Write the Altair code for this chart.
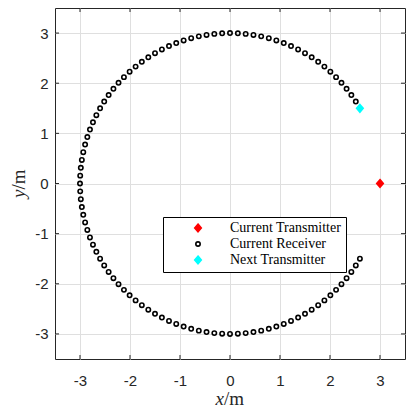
import altair as alt
import numpy as np
import pandas as pd

radius = 3.0
receiver_angle_deg = [33, 36, 39, 42, 45, 48, 51, 54, 57, 60, 63, 66, 69, 72, 75, 78, 81, 84, 87, 90,
                      93, 96, 99, 102, 105, 108, 111, 114, 117, 120, 123, 126, 129, 132, 135, 138, 141, 144, 147, 150,
                      153, 156, 159, 162, 165, 168, 171, 174, 177, 180, 183, 186, 189, 192, 195, 198, 201, 204, 207, 210,
                      213, 216, 219, 222, 225, 228, 231, 234, 237, 240, 243, 246, 249, 252, 255, 258, 261, 264, 267, 270,
                      273, 276, 279, 282, 285, 288, 291, 294, 297, 300, 303, 306, 309, 312, 315, 318, 321, 324, 327, 330]
current_tx = [3.0, 0.0]
next_tx = [2.598, 1.5]
ticks = [-3, -2, -1, 0, 1, 2, 3]
series_names = ["Current Transmitter", "Current Receiver", "Next Transmitter"]

ang = np.deg2rad(np.array(receiver_angle_deg, dtype=float))
df = pd.concat([
    pd.DataFrame({"x": radius * np.cos(ang), "y": radius * np.sin(ang), "series": "Current Receiver"}),
    pd.DataFrame({"x": [current_tx[0]], "y": [current_tx[1]], "series": ["Current Transmitter"]}),
    pd.DataFrame({"x": [next_tx[0]], "y": [next_tx[1]], "series": ["Next Transmitter"]}),
], ignore_index=True)
tick_df = pd.DataFrame({"v": ticks})

W, H = 350, 351
AX = "#262626"
dom = [-3.5, 3.5]
diamond = "M0,-1L0.85,0L0,1L-0.85,0Z"
small_circle = "M-0.56,0A0.56,0.56 0 1,0 0.56,0A0.56,0.56 0 1,0 -0.56,0Z"

common_axis = dict(values=ticks, grid=True, gridColor="#dfdfdf", gridWidth=1, tickSize=0, domain=False,
                   labelFont="Liberation Sans", labelFontSize=15, labelColor=AX, title=None,
                   labelExpr="datum.value + ''")
xaxis = alt.Axis(labelPadding=14, **common_axis)
yaxis = alt.Axis(labelPadding=7, **common_axis)
xscale = alt.Scale(domain=dom, nice=False, zero=False)
yscale = alt.Scale(domain=dom, nice=False, zero=False)

legend = alt.Legend(orient="none", legendX=108, legendY=209, title=None, fillColor="white",
                    strokeColor="black", padding=4, symbolOffset=24, labelOffset=25,
                    labelFont="Liberation Serif", labelFontSize=14, labelColor="black", rowPadding=1,
                    symbolStrokeWidth=1.6, symbolSize=60, cornerRadius=0)

points = alt.Chart(df).mark_point(filled=False, strokeWidth=1.6, opacity=1, size=60).encode(
    x=alt.X("x:Q", scale=xscale, axis=xaxis),
    y=alt.Y("y:Q", scale=yscale, axis=yaxis),
    color=alt.Color("series:N", scale=alt.Scale(domain=series_names, range=["#ff0000", "#000000", "#00ffff"]), legend=legend),
    fill=alt.Fill("series:N", scale=alt.Scale(domain=series_names, range=["#ff0000", "transparent", "#00ffff"]), legend=legend),
    shape=alt.Shape("series:N", scale=alt.Scale(domain=series_names, range=[diamond, small_circle, diamond]), legend=legend),
)

TL = 4
xt_b = alt.Chart(tick_df).mark_rule(color=AX, strokeWidth=1).encode(
    x=alt.X("v:Q", scale=xscale, axis=xaxis), y=alt.value(H), y2=alt.value(H - TL))
xt_t = alt.Chart(tick_df).mark_rule(color=AX, strokeWidth=1).encode(
    x=alt.X("v:Q", scale=xscale, axis=xaxis), y=alt.value(0), y2=alt.value(TL))
yt_l = alt.Chart(tick_df).mark_rule(color=AX, strokeWidth=1).encode(
    y=alt.Y("v:Q", scale=yscale, axis=yaxis), x=alt.value(0), x2=alt.value(TL))
yt_r = alt.Chart(tick_df).mark_rule(color=AX, strokeWidth=1).encode(
    y=alt.Y("v:Q", scale=yscale, axis=yaxis), x=alt.value(W), x2=alt.value(W - TL))

one = pd.DataFrame({"a": [0]})
cx = W / 2
cy = H / 2
tfont = "Liberation Serif"
tsize = 19
xt1 = alt.Chart(one).mark_text(text="x", font=tfont, fontStyle="italic", fontSize=tsize, color=AX,
                               align="right", baseline="middle").encode(x=alt.value(cx - 6), y=alt.value(H + 40))
xt2 = alt.Chart(one).mark_text(text="/m", font=tfont, fontSize=tsize, color=AX,
                               align="left", baseline="middle").encode(x=alt.value(cx - 6), y=alt.value(H + 40))
yt1 = alt.Chart(one).mark_text(text="y", font=tfont, fontStyle="italic", fontSize=tsize, color=AX, angle=270,
                               align="right", baseline="middle").encode(x=alt.value(-36), y=alt.value(cy + 6))
yt2 = alt.Chart(one).mark_text(text="/m", font=tfont, fontSize=tsize, color=AX, angle=270,
                               align="left", baseline="middle").encode(x=alt.value(-36), y=alt.value(cy + 6))

chart = alt.layer(points, xt_b, xt_t, yt_l, yt_r, xt1, xt2, yt1, yt2).properties(
    width=W, height=H, autosize="none",
    padding={"left": 47, "top": 0, "right": 1, "bottom": 50},
).configure_view(stroke=AX, strokeWidth=1)

chart.save("out.html", embed_options={"renderer": "svg", "actions": False})
